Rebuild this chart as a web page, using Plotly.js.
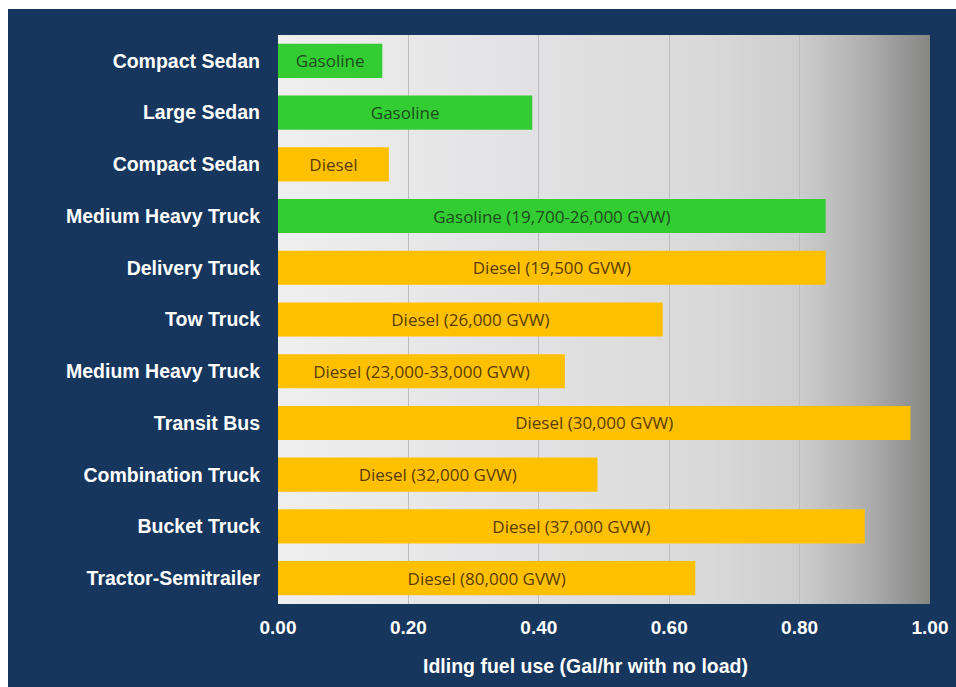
<!DOCTYPE html>
<html>
<head>
<meta charset="utf-8">
<script src="https://cdn.plot.ly/plotly-3.0.1.min.js"></script>
<style>
html, body { margin: 0; padding: 0; background: #ffffff; width: 956px; height: 687px; overflow: hidden; }
#chart { position: absolute; left: 8px; top: 9px; width: 948px; height: 678px; }
</style>
</head>
<body>
<div id="chart"></div>
<script>
// Data (top to bottom as shown)
const vehicles = ["Compact Sedan", "Large Sedan", "Compact Sedan", "Medium Heavy Truck", "Delivery Truck",
  "Tow Truck", "Medium Heavy Truck", "Transit Bus", "Combination Truck", "Bucket Truck", "Tractor-Semitrailer"];
const fuelLabels = ["Gasoline", "Gasoline", "Diesel", "Gasoline (19,700-26,000 GVW)", "Diesel (19,500 GVW)",
  "Diesel (26,000 GVW)", "Diesel (23,000-33,000 GVW)", "Diesel (30,000 GVW)", "Diesel (32,000 GVW)",
  "Diesel (37,000 GVW)", "Diesel (80,000 GVW)"];
const fuelType = ["Gasoline", "Gasoline", "Diesel", "Gasoline", "Diesel", "Diesel", "Diesel", "Diesel", "Diesel", "Diesel", "Diesel"];
const idlingGalPerHr = [0.16, 0.39, 0.17, 0.84, 0.84, 0.59, 0.44, 0.97, 0.49, 0.90, 0.64];
const xTickVals = [0, 0.2, 0.4, 0.6, 0.8, 1.0];
const xTickText = ["0.00", "0.20", "0.40", "0.60", "0.80", "1.00"];
const xTitle = "Idling fuel use (Gal/hr with no load)";

const barColor = { Gasoline: "#33cc33", Diesel: "#ffc000" };
const textColor = { Gasoline: "#1d4d1d", Diesel: "#5a3d05" };

const yIdx = vehicles.map((_, i) => i);

const trace = {
  type: "bar",
  orientation: "h",
  x: idlingGalPerHr,
  y: yIdx,
  text: fuelLabels,
  textposition: "inside",
  insidetextanchor: "middle",
  textangle: 0,
  constraintext: "none",
  textfont: { family: "Open Sans, Liberation Sans, sans-serif", size: 17, color: fuelType.map(f => textColor[f]) },
  marker: { color: fuelType.map(f => barColor[f]), line: { width: 0 } },
  width: 0.66,
  hoverinfo: "x+text",
  showlegend: false
};

const gradSvg = '<svg xmlns="http://www.w3.org/2000/svg" width="1000" height="100" preserveAspectRatio="none">' +
  '<defs><linearGradient id="g" x1="0" y1="0" x2="1" y2="0">' +
  '<stop offset="0" stop-color="#efefef"/>' +
  '<stop offset="0.35" stop-color="#e3e3e5"/>' +
  '<stop offset="0.65" stop-color="#dadada"/>' +
  '<stop offset="0.8" stop-color="#cdcdcd"/>' +
  '<stop offset="0.9" stop-color="#afafaf"/>' +
  '<stop offset="0.97" stop-color="#929292"/>' +
  '<stop offset="1" stop-color="#878782"/>' +
  '</linearGradient></defs><rect x="0" y="0" width="1000" height="100" fill="url(#g)"/></svg>';

const layout = {
  width: 948,
  height: 678,
  paper_bgcolor: "#17365d",
  plot_bgcolor: "rgba(0,0,0,0)",
  margin: { l: 270, r: 26, t: 26, b: 83 },
  xaxis: {
    range: [0, 1.0],
    tickvals: xTickVals,
    ticktext: xTickText,
    tickfont: { family: "Liberation Sans, Arial, sans-serif", size: 19, color: "#ffffff", weight: "bold" },
    showgrid: true,
    gridcolor: "#bdbdbd",
    gridwidth: 1,
    zeroline: false,
    showline: false,
    ticks: "",
    ticklabelstandoff: 10,
    fixedrange: true
  },
  yaxis: {
    range: [10.5, -0.5],
    tickvals: yIdx,
    ticktext: vehicles,
    tickfont: { family: "Liberation Sans, Arial, sans-serif", size: 19.5, color: "#ffffff", weight: "bold" },
    showgrid: false,
    zeroline: false,
    showline: false,
    ticks: "",
    ticklabelstandoff: 17,
    fixedrange: true
  },
  annotations: [{
    text: xTitle,
    xref: "paper", yref: "paper",
    x: 0.472, y: 0,
    xanchor: "center", yanchor: "middle",
    yshift: -62,
    showarrow: false,
    font: { family: "Liberation Sans, Arial, sans-serif", size: 19.5, color: "#ffffff", weight: "bold" }
  }],
  images: [{
    source: "data:image/svg+xml;charset=utf-8," + encodeURIComponent(gradSvg),
    xref: "paper", yref: "paper",
    x: 0, y: 1, sizex: 1, sizey: 1,
    xanchor: "left", yanchor: "top",
    sizing: "stretch",
    layer: "below"
  }]
};

Plotly.newPlot("chart", [trace], layout, { displayModeBar: false, staticPlot: true });
</script>
</body>
</html>
